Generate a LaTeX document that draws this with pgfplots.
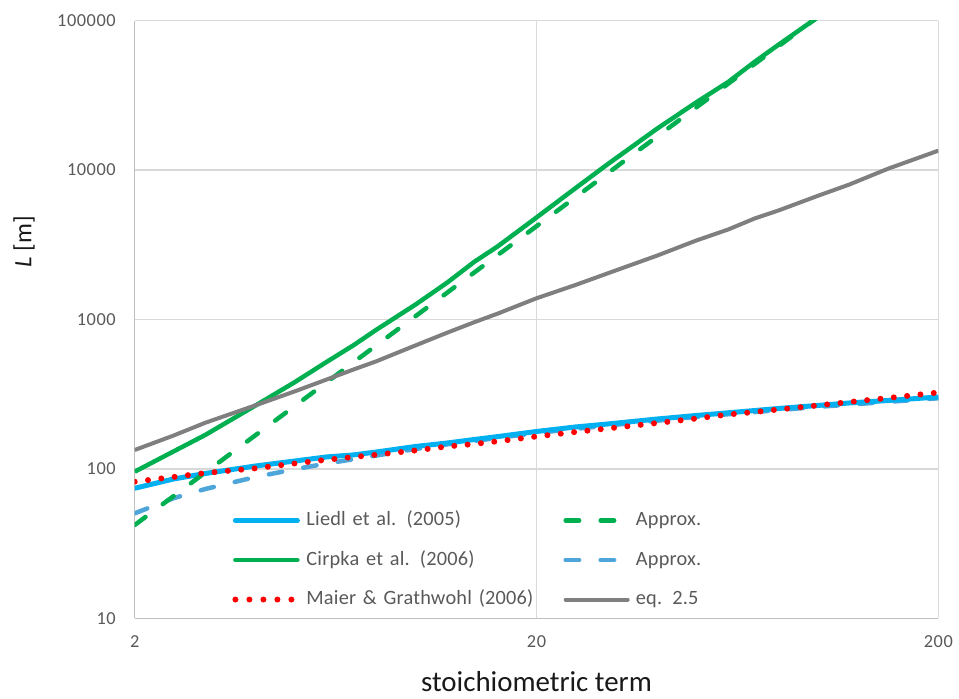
\documentclass[border=0pt]{standalone}
\usepackage{fontspec}
\setmainfont{Carlito}
\newfontfamily\tickfont[LetterSpace=3]{Carlito}
\newfontfamily\legfont[LetterSpace=1]{Carlito}
\usepackage{pgfplots}
\pgfplotsset{compat=1.18}
\definecolor{cblue}{HTML}{00B0F0}
\definecolor{cgreen}{HTML}{00B050}
\definecolor{cred}{HTML}{FF0000}
\definecolor{cgrey}{HTML}{7F7F7F}
\definecolor{clblue}{HTML}{4EA5D9}
\definecolor{cgrid}{HTML}{D9D9D9}
\definecolor{caxis}{HTML}{BFBFBF}
\definecolor{ctext}{HTML}{595959}

\pgfplotstableread{
x y
2 74.2
2.5 85.6
3 93.2
4 104.6
5 112.9
6 120.2
7 124.0
8 129.8
10 141.3
12 149.1
14 157.3
16 164.5
20 178.0
25 190.8
30 199.7
40 215.8
50 227.8
60 237.4
70 246.0
80 253.7
100 265.7
120 276.2
150 287.0
200 302.9
}\liedl

\pgfplotstableread{
x y
2 95.8
2.5 131
3 169
4 266
5 380
6 519
7 671
8 856
10 1259
12 1769
14 2432
16 3081
20 4816
25 7568
30 10900
40 19010
50 28440
60 38880
70 53330
80 68970
100 105000
120 148000
}\cirpka

\pgfplotstableread{
x y
2 82.1
2.5 88.3
3 93.9
4 100.9
5 108.7
6 115.1
7 120.1
8 124.5
10 132.9
12 141.3
14 146.8
16 153.0
20 164.8
25 176.6
30 186.4
40 202.9
50 217.4
60 231.3
70 240.4
80 249.8
100 265.7
120 280.4
150 298.3
200 324.7
}\maier

\pgfplotstableread{
x y
2 42.1
3 94.8
5 263
10 1053
20 4210
50 26300
100 105300
}\approxgreen

\pgfplotstableread{
x y
2 50.4
2.5 63.7
3 73.4
4 88.3
5 99.4
6 108.6
8 122.9
10 135.9
12 146
14 154
16 161
20 174
30 195
50 223
100 260
200 297
}\approxblue

\pgfplotstableread{
x y
2 133.8
2.5 167.3
3 203.8
4 266.6
5 330
6 396
7 462
8 526
10 671
12 817
14 959
16 1094
20 1387
25 1702
30 2032
40 2682
50 3380
60 4004
70 4757
80 5365
100 6708
120 7998
150 10220
200 13490
}\eqtwofive

\begin{document}
\begin{tikzpicture}
\useasboundingbox (-67.35bp,-40.35bp) rectangle (412.15bp,309.15bp);
\begin{axis}[
  scale only axis, width=401.8bp, height=298.8bp,
  xmode=log, ymode=log,
  xmin=2, xmax=200, ymin=10, ymax=100000,
  axis x line*=bottom, axis y line*=left,
  axis line style={caxis, line width=0.75bp},
  xtick={2,20,200}, xticklabels={2,20,200},
  ytick={10,100,1000,10000,100000},
  yticklabels={10,100,1000,10000,100000},
  minor xtick={}, minor ytick={},
  major tick length=0pt, minor tick length=0pt,
  grid=major, major grid style={cgrid, line width=0.75bp},
  /pgf/number format/assume math mode=true,
  tick label style={font=\tickfont\fontsize{9.2}{11}\selectfont, text=ctext},
  xticklabel style={yshift=-5bp},
  yticklabel style={xshift=-6bp},
  xlabel={stoichiometric term},
  ylabel={\textit{L} [m]},
  xlabel style={font=\fontsize{14.5}{16}\selectfont, text=black!90, at={(axis description cs:0.5,-0.106)}, anchor=center},
  ylabel style={font=\fontsize{12.5}{14}\selectfont, text=black!90, at={(axis description cs:-0.1378,0.63)}, anchor=center},
  legend columns=2,
  legend cell align=left,
  legend image code/.code={\draw[#1] (0bp,0bp) -- (31bp,0bp);},
  legend style={draw=none, fill=none, at={(axis description cs:0.1211,0.181)}, anchor=north west,
    font=\legfont\fontsize{10.2}{12}\selectfont, text=ctext,
    inner sep=0pt, column sep=3bp, row sep=9.75bp,
    nodes={inner sep=0pt, text height=7.5bp, text depth=2.5bp, text width=125.5bp}},
]
\addplot[clblue, line width=2.25bp, dash pattern=on 6.75bp off 10.75bp, line cap=round, forget plot] table {\approxblue};
\addplot[cblue, line width=2.5bp, line join=round, forget plot] table {\liedl};
\addplot[cgreen, line width=2.25bp, dash pattern=on 6.75bp off 10.75bp, line cap=round, forget plot] table {\approxgreen};
\addplot[cgreen, line width=2.25bp, line join=round, forget plot] table {\cirpka};
\addplot[cgrey, line width=2bp, line join=round, forget plot] table {\eqtwofive};
\addplot[cred, line width=3bp, dash pattern=on 0bp off 6.7bp, line cap=round, forget plot] table {\maier};

\addlegendimage{cblue, line width=2.5bp, line cap=round}
\addlegendentry{Liedl et al. (2005)}
\addlegendimage{cgreen, line width=2.25bp, dash pattern=on 6.75bp off 10.75bp, line cap=round}
\addlegendentry{Approx.}
\addlegendimage{cgreen, line width=2.25bp, line cap=round}
\addlegendentry{Cirpka et al. (2006)}
\addlegendimage{clblue, line width=2.25bp, dash pattern=on 6.75bp off 10.75bp, line cap=round}
\addlegendentry{Approx.}
\addlegendimage{cred, line width=3bp, dash pattern=on 0bp off 7bp, line cap=round}
\addlegendentry{Maier \& Grathwohl (2006)}
\addlegendimage{cgrey, line width=2bp, line cap=round}
\addlegendentry{eq. 2.5}
\end{axis}
\end{tikzpicture}
\end{document}
